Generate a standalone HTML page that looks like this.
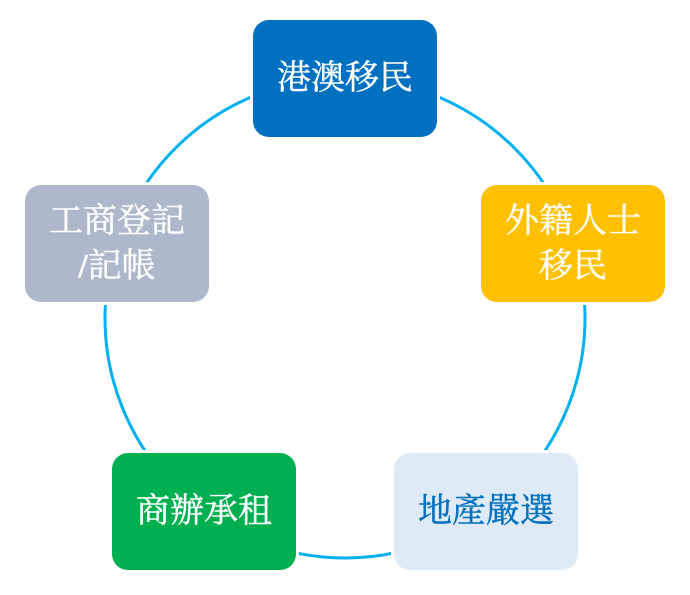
<!DOCTYPE html>
<html><head><meta charset="utf-8"><style>
html,body{margin:0;padding:0;background:#fff;width:690px;height:595px;overflow:hidden}
.b{position:absolute;width:184px;height:117px;border-radius:16px;display:flex;align-items:center;justify-content:center;text-align:center;font-family:"Liberation Serif","Noto Serif CJK SC","Noto Serif CJK TC",serif;font-size:34px;line-height:45px;color:#fff;box-shadow:0 0 0 3px #fff;-webkit-text-stroke:0.4px currentColor}
</style></head><body>
<svg width="690" height="595" style="position:absolute;left:0;top:0">
<circle cx="345" cy="318" r="240" fill="none" stroke="#00B0F0" stroke-width="3"/>
</svg>
<div class="b" style="left:253px;top:20px;background:#0070C0"><span>港澳移民</span></div>
<div class="b" style="left:481px;top:185px;background:#FFC000"><span>外籍人士<br>移民</span></div>
<div class="b" style="left:394px;top:453px;background:#DEEBF7;color:#0070C0"><span>地產嚴選</span></div>
<div class="b" style="left:112px;top:453px;background:#00B050"><span>商辦承租</span></div>
<div class="b" style="left:25px;top:185px;background:#ADB9CA"><span>工商登記<br><b>/</b>記帳</span></div>
</body></html>
